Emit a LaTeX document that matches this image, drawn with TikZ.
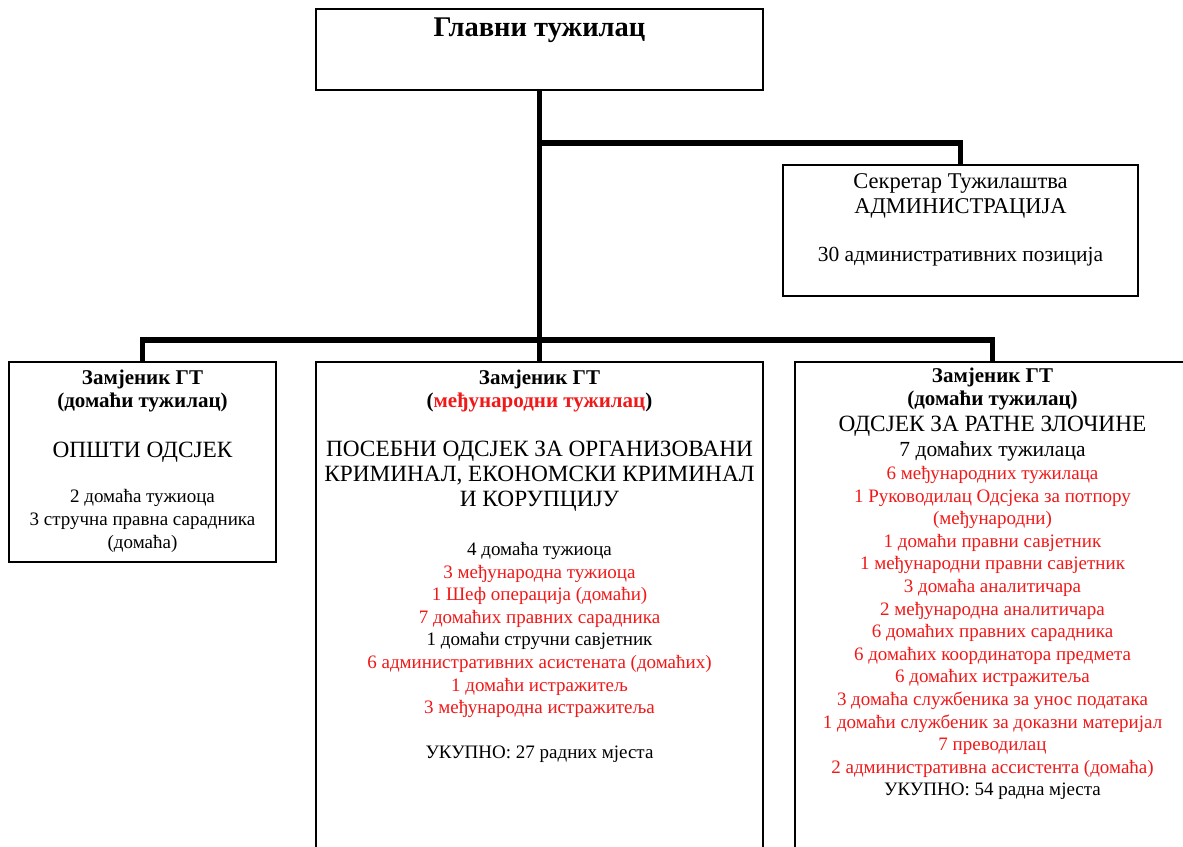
\documentclass[tikz,border=0pt]{standalone}
\usepackage{fontspec}
\setmainfont{Liberation Serif}
\usetikzlibrary{positioning}
\definecolor{intred}{RGB}{240,24,24}
\newcommand{\bd}{\fontsize{19}{22.6}\selectfont}
\newcommand{\bh}{\fontsize{21}{23.5}\selectfont}
\newcommand{\hd}{\fontsize{23.3}{25}\selectfont}
\newcommand{\rd}[1]{\textcolor{intred}{#1}}

\begin{document}
\begin{tikzpicture}[x=1pt,y=-1pt]
	\tikzstyle{box}=[draw, line width=1.6pt, inner sep=0pt]
	\tikzstyle{conn}=[line width=5.5pt]
	\tikzstyle{body}=[align=center, inner sep=0pt, font=\bd]
	\tikzstyle{bold}=[align=center, inner sep=0pt, font=\bh\bfseries]
	\tikzstyle{caps}=[align=center, inner sep=0pt, font=\hd]
	\clip (0,0) rectangle (1183,846);
	% boxes
	\node[box, minimum width=447pt, minimum height=81pt] (gt) at (539.5,49.5) {};
	\node[box, minimum width=355pt, minimum height=131pt] (sec) at (960.5,230.5) {};
	\node[box, minimum width=267pt, minimum height=200pt] (dom) at (142.5,462) {};
	\node[box, minimum width=447pt, minimum height=538pt] (org) at (539.5,631) {};
	\node[box, minimum width=395pt, minimum height=538pt] (war) at (992.5,631) {};
	% connectors
	\coordinate (fork) at (539.5,143);
	\coordinate (bus) at (539.5,340);
	\draw[conn] (gt.south) -- (bus);
	\draw[conn] (fork) -| (sec.north);
	\draw[conn] (dom.north) |- (bus) -| (war.north);
	\draw[conn] (bus) -- (org.north);
	% texts
	\node[bold, font=\fontsize{28.5}{30}\selectfont\bfseries] (gttxt) at (539.5,30) {Главни тужилац};
	\node[caps, font=\fontsize{22.5}{25}\selectfont] (sectxt) at (960.5,196) {Секретар Тужилаштва\\АДМИНИСТРАЦИЈА};
	\node[body, font=\fontsize{21.5}{24}\selectfont] (secnum) at (960.5,257) {30 административних позиција};
	\node[bold] (domhd) at (142.5,391) {Замјеник ГТ\\(домаћи тужилац)};
	\node[caps] (domsec) at (142.5,452) {ОПШТИ ОДСЈЕК};
	\node[body] (domlist) at (142.5,521) {2 домаћа тужиоца\\3 стручна правна сарадника\\(домаћа)};
	\node[bold] (orghd) at (539.5,391) {Замјеник ГТ\\(\rd{међународни тужилац})};
	\node[caps] (orgsec) at (539.5,476) {ПОСЕБНИ ОДСЈЕК ЗА ОРГАНИЗОВАНИ\\КРИМИНАЛ, ЕКОНОМСКИ КРИМИНАЛ\\И КОРУПЦИЈУ};
	\node[body] (orglist) at (539.5,630) {4 домаћа тужиоца\\\rd{3 међународна тужиоца}\\\rd{1 Шеф операција (домаћи)}\\\rd{7 домаћих правних сарадника}\\1 домаћи стручни савјетник\\\rd{6 административних асистената (домаћих)}\\\rd{1 домаћи истражитељ}\\\rd{3 међународна истражитеља}};
	\node[body] (orgtot) at (539.5,754) {УКУПНО: 27 радних мјеста};
	\node[bold] (warhd) at (992.5,389) {Замјеник ГТ\\(домаћи тужилац)};
	\node[caps] (warsec) at (992.5,426) {ОДСЈЕК ЗА РАТНЕ ЗЛОЧИНЕ};
	\node[body] (warlist) at (992.5,621) {{\fontsize{21.5}{22.6}\selectfont 7 домаћих тужилаца}\\\rd{6 међународних тужилаца}\\\rd{1 Руководилац Одсјека за потпору}\\\rd{(међународни)}\\\rd{1 домаћи правни савјетник}\\\rd{1 међународни правни савјетник}\\\rd{3 домаћа аналитичара}\\\rd{2 међународна аналитичара}\\\rd{6 домаћих правних сарадника}\\\rd{6 домаћих координатора предмета}\\\rd{6 домаћих истражитеља}\\\rd{3 домаћа службеника за унос података}\\\rd{1 домаћи службеник за доказни материјал}\\\rd{7 преводилац}\\\rd{2 административна ассистента (домаћа)}\\УКУПНО: 54 радна мјеста};
\end{tikzpicture}
\end{document}
